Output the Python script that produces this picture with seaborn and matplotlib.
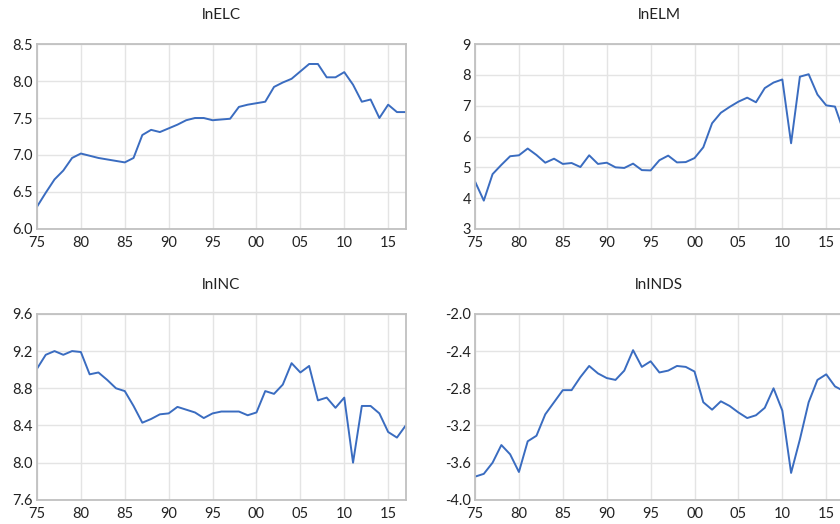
import numpy as np
import pandas as pd
import matplotlib
matplotlib.use("Agg")
import matplotlib.pyplot as plt
import seaborn as sns

# Annual series, 1975-2017
years = list(range(1975, 2018))

ln_elc = [6.30, 6.49, 6.67, 6.79, 6.96, 7.02, 6.99, 6.96, 6.94, 6.92, 6.90,
          6.96, 7.27, 7.34, 7.31, 7.36, 7.41, 7.47, 7.50, 7.50, 7.47, 7.48,
          7.49, 7.65, 7.68, 7.70, 7.72, 7.92, 7.98, 8.03, 8.13, 8.23, 8.23,
          8.05, 8.05, 8.12, 7.95, 7.72, 7.75, 7.50, 7.68, 7.58, 7.58]

ln_elm = [4.54, 3.92, 4.78, 5.08, 5.36, 5.39, 5.61, 5.40, 5.15, 5.28, 5.11,
          5.14, 5.01, 5.39, 5.11, 5.15, 5.00, 4.98, 5.12, 4.91, 4.90, 5.23,
          5.38, 5.16, 5.17, 5.30, 5.65, 6.43, 6.77, 6.96, 7.13, 7.26, 7.11,
          7.57, 7.75, 7.85, 5.78, 7.94, 8.02, 7.36, 7.01, 6.97, 6.15]

ln_inc = [9.01, 9.16, 9.20, 9.16, 9.20, 9.19, 8.95, 8.97, 8.89, 8.80, 8.77,
          8.61, 8.43, 8.47, 8.52, 8.53, 8.60, 8.57, 8.54, 8.48, 8.53, 8.55,
          8.55, 8.55, 8.51, 8.54, 8.77, 8.74, 8.84, 9.07, 8.97, 9.04, 8.67,
          8.70, 8.59, 8.70, 8.00, 8.61, 8.61, 8.53, 8.33, 8.27, 8.40]

ln_inds = [-3.75, -3.72, -3.60, -3.41, -3.51, -3.70, -3.37, -3.31, -3.08, -2.95, -2.82,
           -2.82, -2.68, -2.56, -2.64, -2.69, -2.71, -2.61, -2.39, -2.57, -2.51, -2.63,
           -2.61, -2.56, -2.57, -2.62, -2.95, -3.03, -2.94, -2.99, -3.06, -3.12, -3.09,
           -3.01, -2.80, -3.04, -3.71, -3.35, -2.95, -2.71, -2.65, -2.78, -2.83]

titles = ["lnELC", "lnELM", "lnINC", "lnINDS"]
y_ticks = [
    [6.0, 6.5, 7.0, 7.5, 8.0, 8.5],
    [3, 4, 5, 6, 7, 8, 9],
    [7.6, 8.0, 8.4, 8.8, 9.2, 9.6],
    [-4.0, -3.6, -3.2, -2.8, -2.4, -2.0],
]
y_fmt = ["{:.1f}", "{:.0f}", "{:.1f}", "{:.1f}"]
x_ticks = list(range(1975, 2016, 5))

df = pd.DataFrame({"year": years * 4,
                   "value": ln_elc + ln_elm + ln_inc + ln_inds,
                   "series": np.repeat(titles, len(years))})

sns.set_theme(style="white")
plt.rcParams["font.family"] = ["Lato", "DejaVu Sans"]

fig = plt.figure(figsize=(8.4, 5.24), dpi=100)

# axes boxes in figure fractions; the right column runs slightly past the edge
positions = [
    [0.044, 0.563, 0.439, 0.353],
    [0.5655, 0.563, 0.439, 0.353],
    [0.044, 0.046, 0.439, 0.355],
    [0.5655, 0.046, 0.439, 0.355],
]

for i, name in enumerate(titles):
    ax = fig.add_axes(positions[i])
    sns.lineplot(data=df[df["series"] == name], x="year", y="value",
                 color="#3a6cc0", linewidth=1.4, ax=ax)
    ax.set_xlim(1975, 2017)
    ax.set_ylim(y_ticks[i][0], y_ticks[i][-1])
    ax.set_xticks(x_ticks)
    ax.set_xticklabels([f"{y % 100:02d}" for y in x_ticks])
    ax.set_yticks(y_ticks[i])
    ax.set_yticklabels([y_fmt[i].format(v) for v in y_ticks[i]])
    ax.grid(True, color="#e4e4e4", linewidth=1.0)
    ax.set_axisbelow(True)
    for sp in ax.spines.values():
        sp.set_color("#c0c0c0")
        sp.set_linewidth(1.3)
    ax.tick_params(axis="both", length=0, labelsize=10.5, colors="#222222")
    ax.tick_params(axis="x", pad=5)
    ax.tick_params(axis="y", pad=3)
    ax.set_xlabel("")
    ax.set_ylabel("")
    ax.set_title(name, fontsize=11, color="#222222", pad=18)

fig.savefig("out.png", dpi=100)
